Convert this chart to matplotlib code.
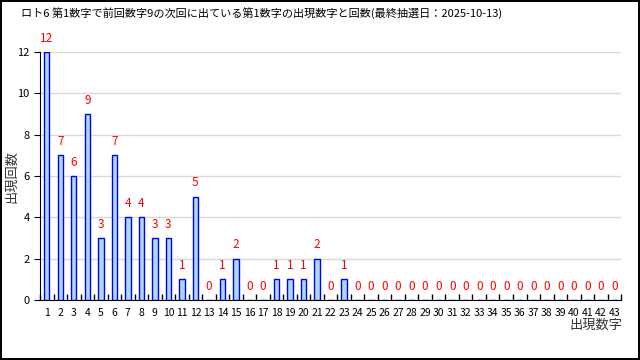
import numpy as np
import matplotlib
matplotlib.use("Agg")
import matplotlib.pyplot as plt

plt.rcParams["font.family"] = ["Noto Sans CJK JP", "DejaVu Sans"]

# ─── Data ───
numbers = list(range(1, 44))
counts = [12, 7, 6, 9, 3, 7, 4, 4, 3, 3, 1, 5, 0, 1, 2, 0, 0, 1, 1, 1, 2, 0, 1] + [0] * 20
title = "ロト6 第1数字で前回数字9の次回に出ている第1数字の出現数字と回数(最終抽選日：2025-10-13)"

fig = plt.figure(figsize=(6.4, 3.6), dpi=100, facecolor="white",
                 edgecolor="black", linewidth=1.5)
ax = fig.add_axes([0.0625, 0.167, 0.908, 0.689])

x = np.arange(len(numbers))
ax.bar(x, counts, width=0.4, color="#add8e6", edgecolor="blue", linewidth=1, zorder=3)
for xi, c in zip(x, counts):
    ax.text(xi, c + 0.35, str(c), color="red", ha="center", va="bottom", fontsize=8.5, zorder=4)

ax.set_xlim(-0.5, len(numbers) - 0.5)
ax.set_ylim(0, 12)
ax.set_yticks(range(0, 13, 2))
ax.set_xticks(x)
ax.set_xticklabels([str(n) for n in numbers], fontsize=7.5)
ax.set_xticks(np.arange(-0.5, len(numbers), 1), minor=True)
ax.tick_params(axis="x", which="major", length=0, pad=6)
ax.tick_params(axis="x", which="minor", direction="in", length=4, width=1)
ax.tick_params(axis="y", labelsize=8, length=4)
ax.grid(axis="y", color="#d9d9d9", linewidth=1, zorder=0)
for s in ["top", "right"]:
    ax.spines[s].set_visible(False)

fig.text(0.018, 0.51, "出現回数", fontsize=9.5, rotation=90, ha="center", va="center", color="#333333")
fig.text(0.932, 0.095, "出現数字", fontsize=9.5, ha="center", va="center", color="#333333")
fig.text(0.033, 0.965, title, fontsize=8, ha="left", va="center")

plt.savefig("out.png", dpi=100, edgecolor=fig.get_edgecolor())
